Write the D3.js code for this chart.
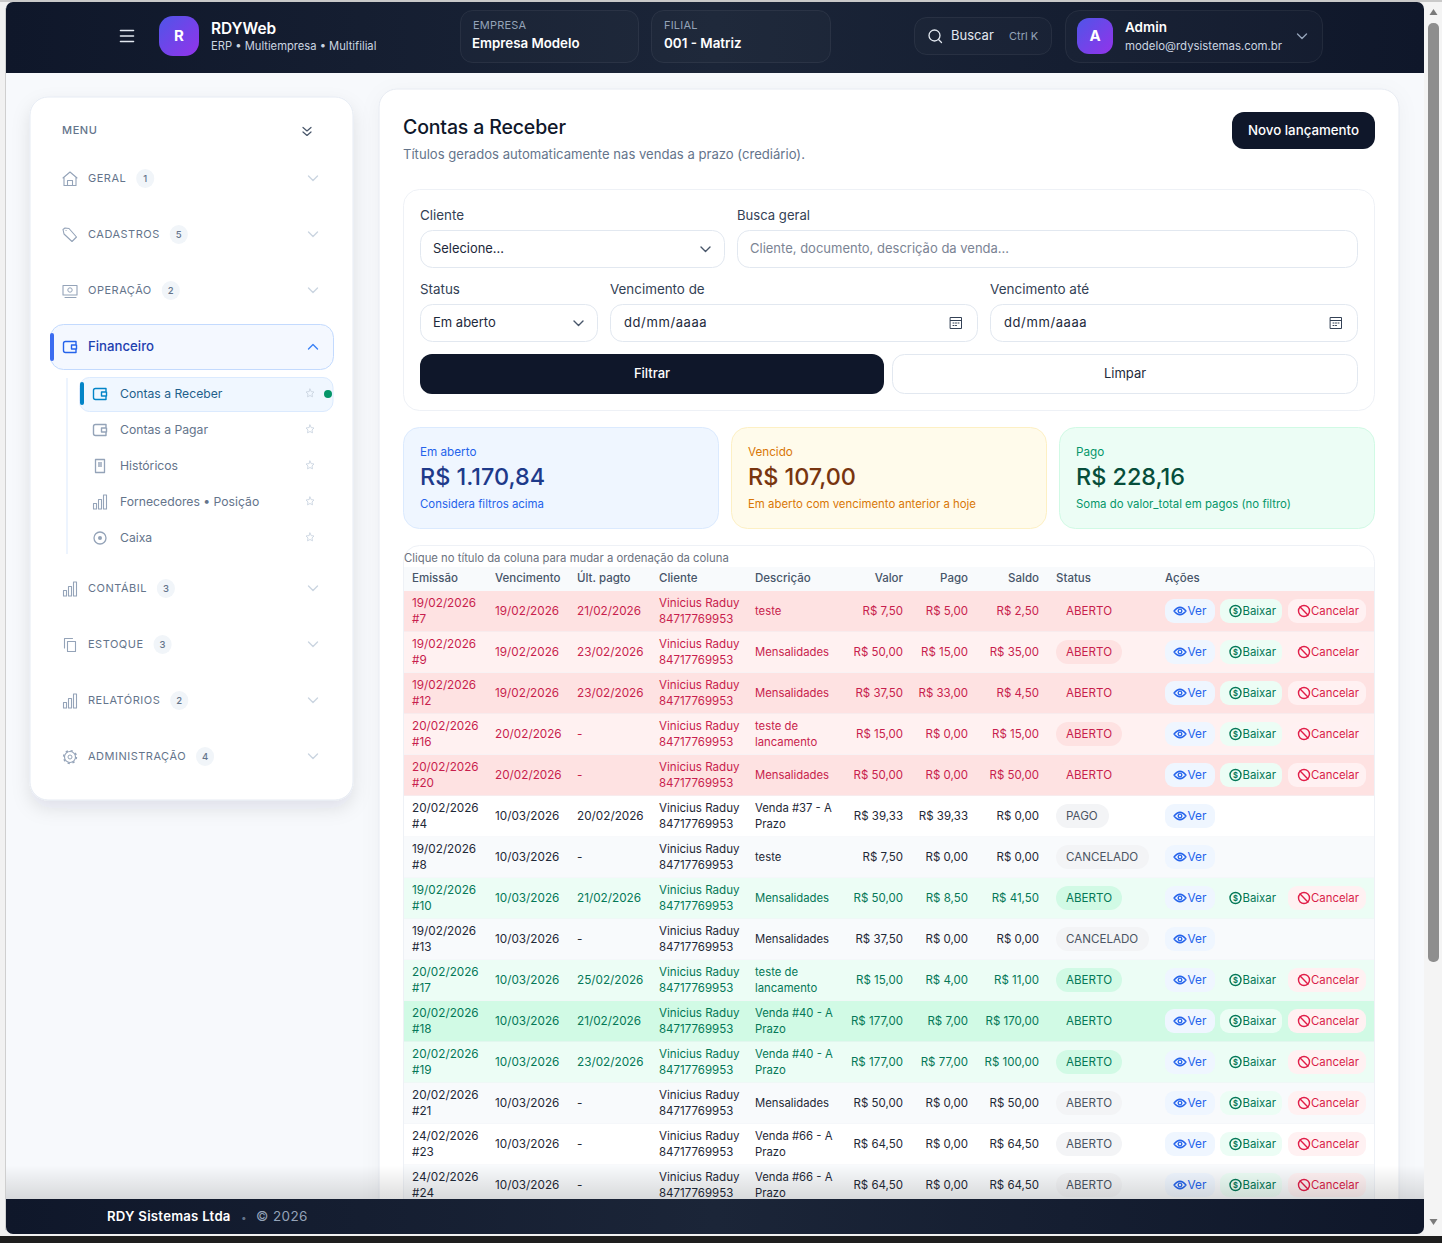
<!DOCTYPE html>
<html lang="pt-BR">
<head>
<meta charset="utf-8">
<title>Contas a Receber</title>
<script src="https://cdn.jsdelivr.net/npm/d3@7"></script>
<style>
  html, body { margin: 0; padding: 0; background: #f1f1f1; overflow: hidden; }
  svg { display: block; font-family: Inter, "Noto Sans", sans-serif; }
</style>
</head>
<body>
<div id="app"></div>
<script>
// DATA ------------------------------
const emissao = ["19/02/2026","19/02/2026","19/02/2026","20/02/2026","20/02/2026","20/02/2026","19/02/2026","19/02/2026","19/02/2026","20/02/2026","20/02/2026","20/02/2026","20/02/2026","24/02/2026","24/02/2026"];
const docs = ["#7","#9","#12","#16","#20","#4","#8","#10","#13","#17","#18","#19","#21","#23","#24"];
const vencimento = ["19/02/2026","19/02/2026","19/02/2026","20/02/2026","20/02/2026","10/03/2026","10/03/2026","10/03/2026","10/03/2026","10/03/2026","10/03/2026","10/03/2026","10/03/2026","10/03/2026","10/03/2026"];
const ultPagto = ["21/02/2026","23/02/2026","23/02/2026","-","-","20/02/2026","-","21/02/2026","-","25/02/2026","21/02/2026","23/02/2026","-","-","-"];
const descricao = [["teste"],["Mensalidades"],["Mensalidades"],["teste de","lancamento"],["Mensalidades"],["Venda #37 - A","Prazo"],["teste"],["Mensalidades"],["Mensalidades"],["teste de","lancamento"],["Venda #40 - A","Prazo"],["Venda #40 - A","Prazo"],["Mensalidades"],["Venda #66 - A","Prazo"],["Venda #66 - A","Prazo"]];
const valor = [7.5,50,37.5,15,50,39.33,7.5,50,37.5,15,177,177,50,64.5,64.5];
const pago = [5,15,33,0,0,39.33,0,8.5,0,4,7,77,0,0,0];
const saldo = [2.5,35,4.5,15,50,0,0,41.5,0,11,170,100,50,64.5,64.5];
const situacao = ["ABERTO","ABERTO","ABERTO","ABERTO","ABERTO","PAGO","CANCELADO","ABERTO","CANCELADO","ABERTO","ABERTO","ABERTO","ABERTO","ABERTO","ABERTO"];
const tone = ["red","red","red","red","red","","","green","","green","green","green","","",""];
const headers = ["Emissão","Vencimento","Últ. pagto","Cliente","Descrição","Valor","Pago","Saldo","Status","Ações"];
const secoesTop = [["GERAL",1,"home"],["CADASTROS",5,"tag"],["OPERAÇÃO",2,"cash"]];
const secoesBottom = [["CONTÁBIL",3,"bars"],["ESTOQUE",3,"copy"],["RELATÓRIOS",2,"bars"],["ADMINISTRAÇÃO",4,"gear"]];
const subItens = [["Contas a Receber","wallet"],["Contas a Pagar","wallet"],["Históricos","doc"],["Fornecedores • Posição","bars"],["Caixa","disc"]];
const resumo = [
  ["Em aberto","R$ 1.170,84","Considera filtros acima"],
  ["Vencido","R$ 107,00","Em aberto com vencimento anterior a hoje"],
  ["Pago","R$ 228,16","Soma do valor_total em pagos (no filtro)"]
];

// SETUP ------------------------------
const W = 1442, H = 1243;
const svg = d3.select("#app").append("svg").attr("width", W).attr("height", H);
const defs = svg.append("defs");

function gradient(id, stops, x2, y2) {
  const g = defs.append("linearGradient").attr("id", id)
    .attr("x1", 0).attr("y1", 0).attr("x2", x2).attr("y2", y2);
  stops.forEach((c, i) => {
    const st = g.append("stop").attr("offset", i / (stops.length - 1)).attr("stop-color", c[0]);
    if (c[1] != null) st.attr("stop-opacity", c[1]);
  });
}
gradient("bar", [["#0f172a"],["#1b2538"],["#0f172a"]], 1, 0);
gradient("logo", [["#4f55e8"],["#9333ea"]], 1, 1);
gradient("fade", [["#000",0],["#000",0.13]], 0, 1);

const soft = defs.append("filter").attr("id", "soft").attr("x", "-10%").attr("y", "-10%").attr("width", "120%").attr("height", "125%");
soft.append("feDropShadow").attr("dx", 0).attr("dy", 8).attr("stdDeviation", 9).attr("flood-color", "#0f172a").attr("flood-opacity", 0.1);
const soft2 = defs.append("filter").attr("id", "soft2").attr("x", "-5%").attr("y", "-5%").attr("width", "110%").attr("height", "110%");
soft2.append("feDropShadow").attr("dx", 0).attr("dy", 4).attr("stdDeviation", 10).attr("flood-color", "#0f172a").attr("flood-opacity", 0.04);

defs.append("clipPath").attr("id", "page").append("rect")
  .attr("x", 6).attr("y", 2).attr("width", 1418).attr("height", 1232).attr("rx", 7);

function box(p, x0, y0, x1, y1, r, fill, stroke) {
  return p.append("rect").attr("x", x0).attr("y", y0).attr("width", x1 - x0).attr("height", y1 - y0)
    .attr("rx", r).attr("fill", fill || "none").attr("stroke", stroke || "none");
}
function label(p, x, y, s, size, fill, weight, anchor, spacing) {
  return p.append("text").attr("x", x).attr("y", y).text(s)
    .attr("font-size", size).attr("fill", fill)
    .attr("font-weight", weight || 400).attr("text-anchor", anchor || "start")
    .attr("letter-spacing", spacing || null);
}
function stroke(p, d, color, w) {
  return p.append("path").attr("d", d).attr("fill", "none").attr("stroke", color)
    .attr("stroke-width", w || 1.3).attr("stroke-linecap", "round").attr("stroke-linejoin", "round");
}
function chevron(p, x, y, color, up) {
  const s = up ? -1 : 1;
  stroke(p, `M${x-4.5},${y-2*s}L${x},${y+2.5*s}L${x+4.5},${y-2*s}`, color, 1.4);
}
// icons are centred on 0,0
const icons = {
  home: g => stroke(g, "M-7,-1L0,-7L7,-1M-6,-2V6.5H6V-2M-2.5,6.5V1.5H2.5V6.5", g.attr("data-c"), 1.1),
  tag: g => stroke(g, "M-7,-5.5L-5,-7L-1,-6.5L6.5,2L2,6.5L-6,-1ZM-4,-4.5h.1", g.attr("data-c"), 1.1),
  cash: g => { stroke(g, "M-7,-5.5H7V4H-7ZM-5,6.5H6", g.attr("data-c"), 1.1); g.append("circle").attr("r", 2.2).attr("cy", -1).attr("fill", "none").attr("stroke", g.attr("data-c")); },
  bars: g => stroke(g, "M-6.5,1.5h3v5.5h-3ZM-1.5,-2.5h3v9.5h-3ZM3.5,-7h3v14h-3Z", g.attr("data-c"), 1.1),
  copy: g => stroke(g, "M-2.5,-3.5H5.5V6.5H-2.5ZM-5.5,3V-6.5H2.5", g.attr("data-c"), 1.1),
  gear: g => { g.append("circle").attr("r", 5.5).attr("fill", "none").attr("stroke", g.attr("data-c")).attr("stroke-width", 1.1); g.append("circle").attr("r", 6.4).attr("fill", "none").attr("stroke", g.attr("data-c")).attr("stroke-width", 1.5).attr("stroke-dasharray", "2.2 2.8"); g.append("circle").attr("r", 2).attr("fill", "none").attr("stroke", g.attr("data-c")); },
  wallet: g => stroke(g, "M6,-5.5H-4.5Q-6.5,-5.5-6.5,-3.5V3.5Q-6.5,5.5-4.5,5.5H6V3M6,-5.5V-3M6.5,-2H1.5V2H6.5Z", g.attr("data-c"), 1.4),
  doc: g => { stroke(g, "M-4.5,-6.5H4.5V6.5H-4.5Z", g.attr("data-c")); g.append("rect").attr("x", -2).attr("y", -4).attr("width", 4).attr("height", 5).attr("fill", g.attr("data-c")).attr("opacity", 0.7); },
  disc: g => { g.append("circle").attr("r", 6).attr("fill", "none").attr("stroke", g.attr("data-c")).attr("stroke-width", 1.3); g.append("circle").attr("r", 2).attr("fill", g.attr("data-c")); },
  star: g => stroke(g, "M0,-4L1.2,-1.4L4,-1L2,1L2.5,3.8L0,2.5L-2.5,3.8L-2,1L-4,-1L-1.2,-1.4Z", g.attr("data-c"), 0.9),
  calendar: g => { stroke(g, "M-5.5,-5.5H5.5V5.5H-5.5ZM-5.5,-2.5H5.5M-3,0h1M-.5,0h1M2,0h1M-3,2.5h1M-.5,2.5h1", g.attr("data-c"), 1); },
  eye: g => { stroke(g, "M-6,0Q0,-7.5 6,0Q0,7.5-6,0Z", g.attr("data-c"), 1.3); g.append("circle").attr("r", 1.8).attr("fill", "none").attr("stroke", g.attr("data-c")).attr("stroke-width", 1.3); },
  coin: g => { g.append("circle").attr("r", 5.5).attr("fill", "none").attr("stroke", g.attr("data-c")).attr("stroke-width", 1.4); label(g, 0, 2.7, "$", 7.5, g.attr("data-c"), 700, "middle"); },
  ban: g => { g.append("circle").attr("r", 5.5).attr("fill", "none").attr("stroke", g.attr("data-c")).attr("stroke-width", 1.4); stroke(g, "M-3.9,-3.9L3.9,3.9", g.attr("data-c"), 1.4); }
};
function icon(p, name, x, y, color) {
  const g = p.append("g").attr("transform", `translate(${x},${y})`).attr("data-c", color);
  icons[name](g);
  return g;
}

// WINDOW ------------------------------
box(svg, 0, 1236, W, H, 0, "#1e1e1e");
box(svg, 0, 0, W, 2, 0, "#c9c9c9");
box(svg, 1424, 2, W, 1236, 0, "#f4f4f4");
box(svg, 5, 8, 6, 1230, 0, "#cfcfcf");
const page = svg.append("g").attr("clip-path", "url(#page)");
box(page, 6, 2, 1424, 1234, 0, "#f7f9fc");

// SIDEBAR ------------------------------
const side = page.append("g");
box(side, 30, 97, 353, 800, 18, "#fff", "#e6ebf3").attr("filter", "url(#soft)");
label(side, 62, 134, "MENU", 11, "#64748b", 500, null, 0.6);
stroke(side, "M303,127.5L307,131L311,127.5M303,132L307,135.5L311,132", "#475569", 1.2);

const slate = "#94a3b8";
function secao(d, y) {
  icon(side, d[2], 70, y + 1, slate);
  const t = label(side, 88, y + 4, d[0], 11, "#64748b", 400, null, 0.5);
  const tw = t.node().getComputedTextLength();
  box(side, 88 + tw + 10, y - 9, 88 + tw + 28, y + 10, 9, "#f1f5f9");
  label(side, 88 + tw + 19, y + 4, d[1], 9.5, "#64748b", 500, "middle");
  chevron(side, 313, y, "#cbd5e1");
}
const sideTop = d3.scalePoint().domain(secoesTop.map(d => d[0])).range([178, 290]);
secoesTop.forEach(d => secao(d, sideTop(d[0])));
const sideBottom = d3.scalePoint().domain(secoesBottom.map(d => d[0])).range([588, 756]);
secoesBottom.forEach(d => secao(d, sideBottom(d[0])));

box(side, 50.5, 324.5, 333.5, 369.5, 13, "#f4f8ff", "#c3dafe");
box(side, 50, 333, 54, 361, 2, "#3b6cf0");
icon(side, "wallet", 70, 347, "#2563eb");
label(side, 88, 351, "Financeiro", 13.2, "#1e40af", 500);
chevron(side, 313, 347, "#3b82f6", true);

box(side, 66.5, 378, 67.5, 554, 0, "#dbeafe");
box(side, 79.5, 377.5, 333, 411.5, 10, "#f0f7ff", "#dbeafe");
box(side, 80, 382, 84, 405, 2, "#0284c7");
const subY = d3.scalePoint().domain(subItens.map(d => d[0])).range([394, 538]);
subItens.forEach((d, i) => {
  const y = subY(d[0]);
  icon(side, d[1], 100, y, i === 0 ? "#0284c7" : slate);
  label(side, 120, y + 4.3, d[0], 12.2, i === 0 ? "#1f5f8b" : "#64748b");
  icon(side, "star", 310, y - 1, "#cbd5e1");
});
side.append("circle").attr("cx", 328).attr("cy", 394).attr("r", 4).attr("fill", "#059669");

// MAIN ------------------------------
const main = page.append("g");
box(main, 379, 89, 1399, 1300, 18, "#fff", "#e6eaf1").attr("filter", "url(#soft2)");
label(main, 403, 134, "Contas a Receber", 19.5, "#0f172a", 500, null, -0.15);
label(main, 403, 159, "Títulos gerados automaticamente nas vendas a prazo (crediário).", 13.1, "#64748b");
box(main, 1232, 112, 1375, 149, 12, "#0f172a");
label(main, 1303.5, 135, "Novo lançamento", 13.3, "#fff", 500, "middle");

// filtros
box(main, 403.5, 189.5, 1374.5, 410.5, 16, "#fff", "#eef1f6");
const fieldLabel = "#334155";
const border = "#e2e8f0";
label(main, 420, 220, "Cliente", 13.4, fieldLabel);
box(main, 420.5, 230.5, 724.5, 267.5, 12, "#fff", border);
label(main, 433, 253, "Selecione...", 12.9, "#1e293b");
chevron(main, 705.5, 249, "#475569");
label(main, 737, 220, "Busca geral", 13.1, fieldLabel);
box(main, 737.5, 230.5, 1357.5, 267.5, 12, "#fff", border);
label(main, 750, 253, "Cliente, documento, descrição da venda...", 13, "#7b8494");
label(main, 420, 294, "Status", 13.4, fieldLabel);
box(main, 420.5, 304.5, 597.5, 341.5, 12, "#fff", border);
label(main, 433, 327, "Em aberto", 13, "#1e293b");
chevron(main, 578.5, 323, "#475569");
label(main, 610, 294, "Vencimento de", 13.4, fieldLabel);
box(main, 610.5, 304.5, 977.5, 341.5, 12, "#fff", border);
label(main, 624, 327, "dd/mm/aaaa", 13, "#1e293b", 400, null, 0.6);
icon(main, "calendar", 956, 323, "#334155");
label(main, 990, 294, "Vencimento até", 13.5, fieldLabel);
box(main, 990.5, 304.5, 1357.5, 341.5, 12, "#fff", border);
label(main, 1004, 327, "dd/mm/aaaa", 13, "#1e293b", 400, null, 0.6);
icon(main, "calendar", 1336, 323, "#334155");
box(main, 420, 354, 884, 394, 12, "#0f172a");
label(main, 652, 378, "Filtrar", 13, "#fff", 500, "middle");
box(main, 892.5, 354.5, 1357.5, 393.5, 12, "#fff", border);
label(main, 1125, 378, "Limpar", 13, "#1e293b", 400, "middle");

// resumo
const resumoX = d3.scalePoint().domain(resumo.map(d => d[0])).range([403, 1059]);
const resumoTema = [
  ["#eff6ff","#dbeafe","#2563eb","#1e3a8a"],
  ["#fffbeb","#fdf0c4","#d97706","#78350f"],
  ["#ecfdf5","#d1fae5","#059669","#064e3b"]
];
resumo.forEach((d, i) => {
  const x = resumoX(d[0]), c = resumoTema[i];
  box(main, x + .5, 427.5, x + 315.5, 528.5, 16, c[0], c[1]);
  label(main, x + 17, 456, d[0], 11.7, c[2]);
  label(main, x + 17, 485, d[1], 23.4, c[3], 500);
  label(main, x + 17, 508, d[2], 11.4, c[2]);
});

// TABELA ------------------------------
box(main, 403.5, 545.5, 1374.5, 1300, 16, "#fff", "#eef1f6");
label(main, 404, 562, "Clique no título da coluna para mudar a ordenação da coluna", 11.3, "#6b7280");
box(main, 404, 567, 1374, 591, 0, "#f8fafc");

const colX = d3.scaleOrdinal().domain(headers).range([412, 495, 577, 659, 755, 903, 968, 1039, 1056, 1165]);
const rightCols = ["Valor", "Pago", "Saldo"];
headers.forEach(h => label(main, colX(h), 582, h, 11.5, "#475569", 500, rightCols.includes(h) ? "end" : "start"));

const rowY = d3.scaleLinear().domain([0, 1]).range([611, 652]);
const moeda = d3.formatLocale({ decimal: ",", thousands: ".", grouping: [3], currency: ["R$ ", ""] }).format("$,.2f");

const tema = {
  red: { odd: "#fff1f1", even: "#fee2e2", text: "#c81e4d", pill: "#fee2e2", cancel: "#fff1f2" },
  green: { odd: "#ecfdf5", even: "#d1fae5", text: "#047857", pill: "#d1fae5", cancel: "#fff1f2" },
  "": { odd: "#ffffff", even: "#f8fafc", text: "#1f2937", pill: "#f3f4f6", cancel: "#fff1f2" }
};
const rows = d3.range(emissao.length).map(i => ({ i, t: tema[tone[i]] }));

const row = main.selectAll("g.row").data(rows).join("g").attr("class", "row")
  .attr("transform", d => `translate(0,${rowY(d.i)})`);

row.append("rect").attr("x", 404).attr("y", -20).attr("width", 970).attr("height", 41)
  .attr("fill", d => d.i % 2 ? d.t.odd : d.t.even);
row.append("rect").attr("x", 404).attr("y", 20.5).attr("width", 970).attr("height", 0.7).attr("fill", "#f1f3f7");

const cellSize = 11.5, dateSize = 11.75;
row.each(function(d) {
  const g = d3.select(this), i = d.i, c = d.t.text;
  label(g, colX("Emissão"), -4, emissao[i], dateSize, c);
  label(g, colX("Emissão"), 12, docs[i], dateSize, c);
  label(g, colX("Vencimento"), 4, vencimento[i], dateSize, c);
  label(g, colX("Últ. pagto"), 4, ultPagto[i], dateSize, c);
  label(g, colX("Cliente"), -4, "Vinicius Raduy", 11.6, c);
  label(g, colX("Cliente"), 12, "84717769953", cellSize, c);
  const desc = descricao[i];
  if (desc.length === 1) label(g, colX("Descrição"), 4, desc[0], 11.3, c);
  else { label(g, colX("Descrição"), -4, desc[0], 11.3, c); label(g, colX("Descrição"), 12, desc[1], 11.3, c); }
  label(g, colX("Valor"), 4, moeda(valor[i]), cellSize, c, 400, "end");
  label(g, colX("Pago"), 4, moeda(pago[i]), cellSize, c, 400, "end");
  label(g, colX("Saldo"), 4, moeda(saldo[i]), cellSize, c, 400, "end");

  const st = situacao[i];
  const pillText = tone[i] ? c : "#4b5563";
  const tw = { ABERTO: 66, PAGO: 53, CANCELADO: 93 }[st];
  box(g, colX("Status"), -12, colX("Status") + tw, 12, 12, d.t.pill);
  label(g, colX("Status") + 10, 4, st, 11.6, pillText);

  box(g, 1165, -12, 1215, 12, 9, "#eff6ff");
  icon(g, "eye", 1180, 0, "#2563eb");
  label(g, 1187.5, 4, "Ver", 11.8, "#2563eb");
  if (st === "ABERTO") {
    box(g, 1220, -12, 1282, 12, 9, "#ecfdf5");
    icon(g, "coin", 1235.5, 0, "#047857");
    label(g, 1242.5, 4, "Baixar", 11.4, "#047857");
    box(g, 1288, -12, 1366, 12, 9, d.t.cancel);
    icon(g, "ban", 1304, 0, "#e11d48");
    label(g, 1311, 4, "Cancelar", 11.4, "#d91e4a");
  }
});

// HEADER ------------------------------
const topbar = page.append("g");
box(topbar, 6, 2, 1424, 73, 0, "url(#bar)");
stroke(topbar, "M120.5,30.5H133.5M120.5,36H133.5M120.5,41.5H133.5", "#e2e8f0", 1.6);
box(topbar, 159, 16, 199, 56, 14, "url(#logo)");
label(topbar, 179, 41, "R", 15, "#fff", 700, "middle");
label(topbar, 211, 34, "RDYWeb", 15.4, "#fff", 600);
label(topbar, 211, 50, "ERP • Multiempresa • Multifilial", 11.2, "#cbd5e1");
const glass = "rgba(255,255,255,.02)", glassLine = "rgba(255,255,255,.07)";
box(topbar, 460.5, 10.5, 638.5, 62.5, 12, glass, glassLine);
label(topbar, 473, 29, "EMPRESA", 11, "#94a3b8", 400, null, 0.2);
label(topbar, 472, 48, "Empresa Modelo", 13.3, "#fff", 600);
box(topbar, 651.5, 10.5, 830.5, 62.5, 12, glass, glassLine);
label(topbar, 664, 29, "FILIAL", 11, "#94a3b8", 400, null, 0.2);
label(topbar, 664, 48, "001 - Matriz", 13.4, "#fff", 600);
box(topbar, 914.5, 17.5, 1051.5, 54.5, 12, glass, glassLine);
topbar.append("circle").attr("cx", 934.5).attr("cy", 35.5).attr("r", 5.5).attr("fill", "none").attr("stroke", "#e2e8f0").attr("stroke-width", 1.3);
stroke(topbar, "M938.5,39.5L941.5,42.5", "#e2e8f0", 1.3);
label(topbar, 951, 40, "Buscar", 13, "#e2e8f0");
label(topbar, 1009, 40, "Ctrl K", 11, "#94a3b8");
box(topbar, 1065.5, 10.5, 1322.5, 62.5, 14, glass, glassLine);
box(topbar, 1077, 18, 1113, 54, 12, "url(#logo)");
label(topbar, 1095, 41, "A", 15, "#fff", 700, "middle");
label(topbar, 1125, 32, "Admin", 13.5, "#fff", 600);
label(topbar, 1125, 50, "modelo@rdysistemas.com.br", 11.4, "#cbd5e1");
chevron(topbar, 1302, 36, "#94a3b8");

// FOOTER ------------------------------
box(page, 6, 1165, 1424, 1199, 0, "url(#fade)");
box(page, 6, 1199, 1424, 1234, 0, "url(#bar)");
label(page, 107, 1221, "RDY Sistemas Ltda", 13.2, "#fff", 600, null, 0.25);
label(page, 241, 1221, "•", 10, "#64748b");
label(page, 256, 1221, "© 2026", 13.5, "#94a3b8", 400, null, 0.4);

// SCROLLBAR ------------------------------
box(svg, 1428, 23, 1439, 962, 5, "#8e8e8e");
svg.append("path").attr("fill", "#7a7a7a").attr("d", d3.line()([[1429.5, 15], [1437.5, 15], [1433.5, 9]]) + "Z");
svg.append("path").attr("fill", "#7a7a7a").attr("d", d3.line()([[1429.5, 1219], [1437.5, 1219], [1433.5, 1225]]) + "Z");
</script>
</body>
</html>
